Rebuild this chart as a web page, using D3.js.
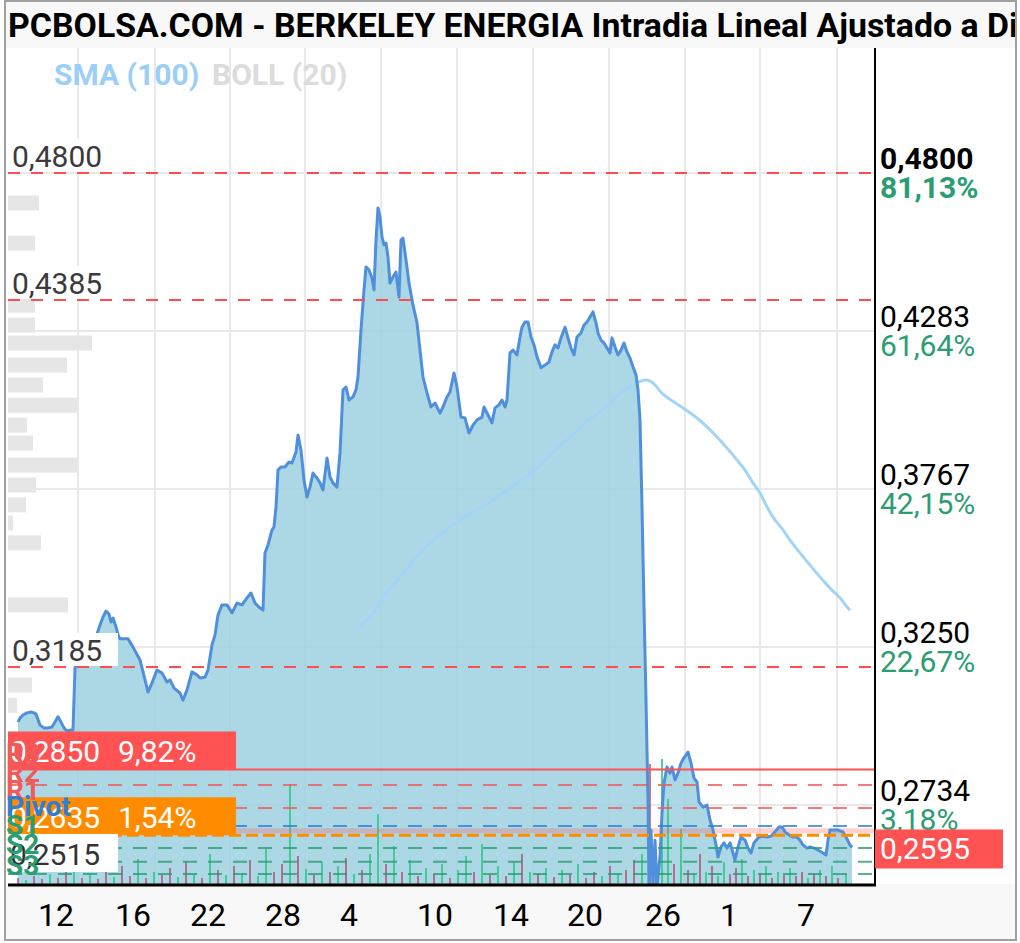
<!DOCTYPE html>
<html><head><meta charset="utf-8">
<script src="https://cdn.jsdelivr.net/npm/d3@7/dist/d3.min.js"></script>
<style>body{margin:0;background:#fff}svg{display:block}text{font-family:Roboto,"Noto Sans",sans-serif}</style>
</head><body><svg id="c" width="1020" height="943"></svg>
<script>
// ---------------- DATA ----------------
const titleText = "PCBOLSA.COM - BERKELEY ENERGIA Intradia Lineal Ajustado a Di";
const legendItems = ["SMA (100)", "BOLL (20)"];

// intraday price (bar index, price)
const priceT = [0,2,5,9,13,16,18,22,26,30,34,37,40,43,46,49,53,55,57,62,70,77,82,85,88,91,93,95,98,100,102,110,115,122,127,130,134,139,144,149,152,156,162,165,169,174,179,182,187,190,194,197,200,204,209,214,219,224,229,233,237,242,245,247,250,254,256,258,260,263,267,271,274,278,280,283,286,289,292,295,299,302,305,309,312,315,319,322,325,328,331,335,338,340,343,346,348,351,354,356,358,360,362,364,366,368,370,372,375,378,381,383,385,388,391,395,399,402,405,409,413,417,422,425,429,432,436,439,443,447,451,455,459,464,466,470,474,477,481,484,487,489,492,495,499,502,504,507,510,513,516,519,523,527,531,534,537,540,543,547,550,553,556,559,563,566,569,572,575,578,580,583,586,589,592,594,597,600,603,606,609,612,615,618,620,622,624,626,628,630,631,633,635,637,639,642,644,646,649,652,654,657,660,663,666,670,673,676,679,681,685,689,692,695,698,700,703,706,709,712,715,717,720,723,727,730,733,736,740,744,749,753,757,761,764,767,771,775,779,782,785,789,792,796,800,805,808,810,812,816,820,825,828,832,834];
const priceV = [0.3005,0.3018,0.3028,0.3035,0.3038,0.3035,0.3031,0.2995,0.2986,0.2986,0.2989,0.3005,0.3022,0.3005,0.2986,0.2976,0.2979,0.2979,0.3182,0.3241,0.3257,0.3273,0.3322,0.3348,0.3368,0.3358,0.3332,0.3345,0.3316,0.3290,0.3277,0.3277,0.3250,0.3208,0.3143,0.3103,0.3133,0.3175,0.3165,0.3136,0.3143,0.3116,0.3100,0.3077,0.3110,0.3169,0.3159,0.3149,0.3152,0.3175,0.3257,0.3290,0.3355,0.3388,0.3388,0.3362,0.3394,0.3388,0.3411,0.3427,0.3394,0.3378,0.3371,0.3558,0.3584,0.3633,0.3643,0.3708,0.3829,0.3839,0.3839,0.3855,0.3852,0.3888,0.3943,0.3894,0.3796,0.3741,0.3773,0.3819,0.3803,0.3787,0.3764,0.3868,0.3806,0.3787,0.3773,0.3885,0.4091,0.4100,0.4058,0.4068,0.4091,0.4133,0.4287,0.4418,0.4493,0.4483,0.4457,0.4418,0.4581,0.4686,0.4656,0.4591,0.4565,0.4571,0.4525,0.4440,0.4460,0.4476,0.4395,0.4581,0.4587,0.4516,0.4440,0.4368,0.4310,0.4221,0.4133,0.4081,0.4035,0.4048,0.4015,0.4035,0.4068,0.4084,0.4146,0.4100,0.4002,0.3999,0.3950,0.3976,0.3993,0.4002,0.4035,0.4009,0.3983,0.4032,0.4042,0.4058,0.4035,0.4058,0.4212,0.4221,0.4205,0.4264,0.4296,0.4313,0.4313,0.4264,0.4238,0.4199,0.4163,0.4172,0.4182,0.4215,0.4238,0.4228,0.4261,0.4296,0.4261,0.4228,0.4205,0.4264,0.4277,0.4303,0.4313,0.4329,0.4346,0.4310,0.4277,0.4254,0.4244,0.4228,0.4212,0.4261,0.4231,0.4205,0.4221,0.4244,0.4215,0.4195,0.4166,0.4140,0.4091,0.3993,0.3708,0.3381,0.3077,0.2750,0.2470,0.2652,0.2470,0.2619,0.2470,0.2564,0.2708,0.2806,0.2858,0.2838,0.2858,0.2816,0.2838,0.2871,0.2888,0.2907,0.2871,0.2822,0.2809,0.2744,0.2727,0.2734,0.2685,0.2652,0.2603,0.2564,0.2597,0.2610,0.2593,0.2610,0.2577,0.2554,0.2597,0.2629,0.2619,0.2593,0.2577,0.2610,0.2626,0.2632,0.2629,0.2632,0.2646,0.2662,0.2662,0.2646,0.2636,0.2629,0.2629,0.2619,0.2603,0.2593,0.2597,0.2593,0.2587,0.2577,0.2570,0.2619,0.2652,0.2652,0.2652,0.2646,0.2629,0.2603,0.2595];

// SMA(100)
const smaT = [342,355,369,382,392,402,412,422,432,442,452,462,472,482,492,502,512,522,532,537,552,567,582,595,609,619,627,632,637,644,652,665,679,689,699,709,719,727,735,742,749,755,765,772,782,792,802,812,822,829,832];
const smaV = [0.3316,0.3362,0.3430,0.3479,0.3518,0.3558,0.3590,0.3617,0.3643,0.3666,0.3685,0.3705,0.3724,0.3747,0.3770,0.3793,0.3816,0.3845,0.3878,0.3894,0.3937,0.3983,0.4019,0.4058,0.4097,0.4114,0.4123,0.4120,0.4107,0.4080,0.4060,0.4032,0.3999,0.3970,0.3937,0.3901,0.3862,0.3829,0.3787,0.3754,0.3708,0.3675,0.3633,0.3600,0.3558,0.3518,0.3479,0.3443,0.3411,0.3381,0.3371];

// volume (thousands) ; 1 = up (green), 0 = down (red)
const volT = [0,8,16,24,32,40,48,56,64,72,80,88,96,104,112,120,128,136,144,152,160,168,176,184,192,200,208,216,224,232,240,248,256,264,272,280,288,296,304,312,320,328,336,344,352,360,368,376,384,392,400,408,416,424,432,440,448,456,464,472,480,488,496,504,512,520,528,536,544,552,560,568,576,584,592,600,608,616,624,632,638,644,650,656,663,670,676,682,688,694,700,706,712,718,724,730,736,742,748,754,760,766,772,778,784,790,796,802,808,814,820,828];
const volV = [60,40,80,50,100,60,120,200,60,90,50,140,70,180,80,250,60,120,90,160,70,220,100,60,300,140,90,180,110,240,80,350,120,200,1000,280,150,90,220,120,180,260,100,140,300,700,200,380,120,240,80,160,100,200,60,140,280,120,400,90,180,80,220,300,120,100,160,70,140,90,200,60,120,80,180,100,140,240,300,1200,350,1250,850,200,550,140,100,300,120,180,80,220,100,160,250,80,140,100,180,60,120,90,160,80,120,60,100,140,80,180,60,100];
const volUp = [0,1,0,0,1,0,0,1,0,1,0,0,1,0,0,1,0,1,0,0,1,0,1,0,1,0,1,0,1,0,1,1,0,0,1,0,1,0,1,0,1,0,1,0,1,1,0,1,0,1,0,1,0,1,0,1,1,0,1,0,1,0,1,0,1,0,1,0,1,0,1,0,0,1,0,1,0,0,1,0,0,1,1,0,1,0,1,0,1,0,1,1,0,0,1,0,1,0,1,0,1,0,1,0,0,1,0,1,0,1,0,1];

// volume profile (price level, relative volume)
const profileP = [0.4702,0.4571,0.4368,0.4303,0.4244,0.4172,0.4107,0.4041,0.3976,0.3917,0.3845,0.3780,0.3715,0.3656,0.3591,0.3388,0.3126,0.3060];
const profileV = [31,27,27,27,84,59,35,69,19,25,69,28,18,5,33,60,24,9];
const profileBin = 0.0049;

// right axis
const yTickValues = [0.4800,0.42834,0.37668,0.32502,0.27336];
const yTickLabels = ["0,4800","0,4283","0,3767","0,3250","0,2734"];
const yTickPct = ["81,13%","61,64%","42,15%","22,67%","3,18%"];

// x axis
const xTickT = [38,115,190,265,331,417,493,567,645,711,788];
const xTickLabels = ["12","16","22","28","4","10","14","20","26","1","7"];
const xGridT = [60,137,212,287,363,439,515,591,667,742,819];

// horizontal levels
const levelValues = [0.4800,0.4385,0.3185];
const levelLabels = ["0,4800","0,4385","0,3185"];

// pivot points
const pivotNames = ["R3","R2","R1","Pivot","S1","S2","S3"];
const pivotValues = [0.2850,0.2799,0.2724,0.2665,0.2593,0.2548,0.2508];

// labelled boxes on the left
const boxValues = [0.2850,0.2635,0.2515];
const boxLabels = ["0,2850","0,2635","0,2515"];
const boxPct = ["9,82%","1,54%",""];

const lastPrice = 0.2595, lastLabel = "0,2595";
const prevClose = 0.2650;

// ---------------- DRAW ----------------
const W = 1020, H = 943;
const L = 8, R = 875, T = 48, B = 884;
const svg = d3.select("#c");

const x = d3.scaleLinear().domain([0, 834]).range([18, 852]);
const y = d3.scaleLinear().domain([0.24756, 0.52087]).range([B, T]);
const vh = d3.scaleLinear().domain([0, 1000]).range([0, 100]);
const pw = d3.scaleLinear().domain([0, 100]).range([0, 100]);

// backgrounds
svg.append("rect").attr("width", W).attr("height", H).attr("fill", "#fff");
svg.append("rect").attr("x", 6).attr("y", 2).attr("width", 1010).attr("height", T - 2).attr("fill", "#f8f8f8");
svg.append("rect").attr("x", 6).attr("y", B).attr("width", 1010).attr("height", H - B - 3).attr("fill", "#f8f8f8");
svg.append("rect").attr("x", L).attr("y", T).attr("width", R - L).attr("height", B - T).attr("fill", "#fff");

svg.append("clipPath").attr("id", "plotclip").append("rect")
  .attr("x", L).attr("y", T).attr("width", R - L).attr("height", B - T);
const g = svg.append("g").attr("clip-path", "url(#plotclip)");

// grid
g.selectAll(".vg").data(xGridT).join("line")
  .attr("x1", d => x(d)).attr("x2", d => x(d)).attr("y1", T).attr("y2", B)
  .attr("stroke", "#e9e9e9").attr("stroke-width", 2);
g.selectAll(".hg").data(yTickValues).join("line")
  .attr("x1", L).attr("x2", R).attr("y1", d => y(d)).attr("y2", d => y(d))
  .attr("stroke", "#e9e9e9").attr("stroke-width", 2);

// volume profile
g.selectAll(".pf").data(profileP).join("rect")
  .attr("x", L).attr("y", d => y(d + profileBin / 2))
  .attr("width", (d, i) => pw(profileV[i]))
  .attr("height", d => y(d - profileBin / 2) - y(d + profileBin / 2))
  .attr("fill", "#e6e6e6");

// price area
const pts = priceT.map((t, i) => [t, priceV[i]]);
g.append("path").datum(pts)
  .attr("d", d3.area().x(d => x(d[0])).y0(B).y1(d => y(d[1])))
  .attr("fill", "rgb(158,209,226)").attr("fill-opacity", 0.85);

// volume bars
g.selectAll(".vb").data(volT).join("rect")
  .attr("x", d => x(d) - 1).attr("width", 2)
  .attr("y", (d, i) => B - vh(volV[i])).attr("height", (d, i) => vh(volV[i]))
  .attr("fill", (d, i) => volUp[i] ? "rgba(50,200,140,0.85)" : "rgba(170,80,110,0.75)");

// previous close band
g.append("line").attr("x1", L).attr("x2", R).attr("y1", y(prevClose)).attr("y2", y(prevClose))
  .attr("stroke", "rgba(255,90,90,0.28)").attr("stroke-width", 5);

// SMA
const sp = smaT.map((t, i) => [t, smaV[i]]);
g.append("path").datum(sp)
  .attr("d", d3.line().x(d => x(d[0])).y(d => y(d[1])).curve(d3.curveMonotoneX))
  .attr("fill", "none").attr("stroke", "#a3d4f7").attr("stroke-width", 3);

// price line
g.append("path").datum(pts)
  .attr("d", d3.line().x(d => x(d[0])).y(d => y(d[1])))
  .attr("fill", "none").attr("stroke", "#4f8fdc").attr("stroke-width", 3).attr("stroke-linejoin", "round");

// level dashed lines
g.selectAll(".lv").data(levelValues).join("line")
  .attr("x1", L).attr("x2", R).attr("y1", d => y(d)).attr("y2", d => y(d))
  .attr("stroke", "#ff4d4d").attr("stroke-width", 2).attr("stroke-dasharray", "12,11");

// pivot lines
const pivotColor = n => n[0] === "R" ? "#f05a5a" : (n[0] === "P" ? "#2f7fd6" : "#2a9d72");
g.selectAll(".pv").data(pivotValues.slice(1)).join("line")
  .attr("x1", L).attr("x2", R).attr("y1", d => y(d)).attr("y2", d => y(d))
  .attr("stroke", (d, i) => pivotColor(pivotNames[i + 1])).attr("stroke-opacity", 0.8)
  .attr("stroke-width", 2).attr("stroke-dasharray", "14,11");

// box level lines
g.append("line").attr("x1", L).attr("x2", R).attr("y1", y(boxValues[0])).attr("y2", y(boxValues[0]))
  .attr("stroke", "#ff5252").attr("stroke-width", 2);
g.append("line").attr("x1", L).attr("x2", R).attr("y1", y(boxValues[1])).attr("y2", y(boxValues[1]))
  .attr("stroke", "#ff8c00").attr("stroke-width", 3).attr("stroke-dasharray", "12,5");

// axis frame
svg.append("line").attr("x1", R).attr("x2", R).attr("y1", T).attr("y2", B + 1)
  .attr("stroke", "#000").attr("stroke-width", 2);
svg.append("line").attr("x1", L).attr("x2", R + 1).attr("y1", B + 1).attr("y2", B + 1)
  .attr("stroke", "#000").attr("stroke-width", 3);

// level labels (left)
levelValues.forEach((v, i) => {
  svg.append("rect").attr("x", L).attr("y", y(v) - 34).attr("width", 110).attr("height", 33).attr("fill", "#fff");
  svg.append("text").attr("x", 12).attr("y", y(v) - 6).attr("font-size", 30).attr("fill", "#3a3a3a").text(levelLabels[i]);
});

// boxes on the left
const boxFill = ["#ff5252", "#ff8c00", "#ffffff"];
const boxText = ["#fff", "#fff", "#333"];
const boxW = [228, 228, 110];
boxValues.forEach((v, i) => {
  svg.append("rect").attr("x", L).attr("y", y(v) - 38).attr("width", boxW[i]).attr("height", 38).attr("fill", boxFill[i]);
  svg.append("text").attr("x", 10).attr("y", y(v) - 7).attr("font-size", 30).attr("fill", boxText[i]).text(boxLabels[i]);
  if (boxPct[i]) svg.append("text").attr("x", 118).attr("y", y(v) - 7).attr("font-size", 30).attr("fill", boxText[i]).text(boxPct[i]);
});

// pivot labels
const pivotLabelOffset = [-6, -3, -8, -10, -13, -8, 1];
pivotNames.forEach((n, i) => {
  svg.append("text").attr("x", 6).attr("y", y(pivotValues[i]) + pivotLabelOffset[i])
    .attr("font-size", 28).attr("font-weight", "bold").attr("fill", pivotColor(n)).text(n);
});

// right axis labels
yTickValues.forEach((v, i) => {
  svg.append("text").attr("x", 880).attr("y", y(v) - 4).attr("font-size", 30)
    .attr("font-weight", i === 0 ? "bold" : "normal").attr("fill", "#000").text(yTickLabels[i]);
  svg.append("text").attr("x", 880).attr("y", y(v) + 25).attr("font-size", 30)
    .attr("font-weight", i === 0 ? "bold" : "normal").attr("fill", "#2a9d72").text(yTickPct[i]);
});

// last price box
svg.append("rect").attr("x", R).attr("y", y(lastPrice) - 18).attr("width", 128).attr("height", 39).attr("fill", "#ff5252");
svg.append("text").attr("x", 880).attr("y", y(lastPrice) + 12).attr("font-size", 30).attr("fill", "#fff").text(lastLabel);

// x axis labels
svg.selectAll(".xl").data(xTickT).join("text")
  .attr("x", d => x(d)).attr("y", 926).attr("text-anchor", "middle")
  .attr("font-family", "'Liberation Sans Narrow', 'DejaVu Sans Condensed', sans-serif")
  .attr("font-size", 32).attr("fill", "#000")
  .text((d, i) => xTickLabels[i]);

// legend
svg.append("text").attr("x", 54).attr("y", 85).attr("font-size", 30).attr("font-weight", "bold")
  .attr("fill", "#9ccff8").text(legendItems[0]);
svg.append("text").attr("x", 212).attr("y", 85).attr("font-size", 30).attr("font-weight", "bold")
  .attr("fill", "#dcdcdc").text(legendItems[1]);

// title
svg.append("text").attr("x", 8).attr("y", 37).attr("font-size", 33).attr("font-weight", "bold")
  .attr("textLength", 1010).attr("lengthAdjust", "spacingAndGlyphs")
  .attr("fill", "#000").text(titleText);

// outer border
svg.append("rect").attr("x", 5).attr("y", 1).attr("width", 1011).attr("height", 939)
  .attr("fill", "none").attr("stroke", "#a0a0a0").attr("stroke-width", 2);
</script></body></html>
